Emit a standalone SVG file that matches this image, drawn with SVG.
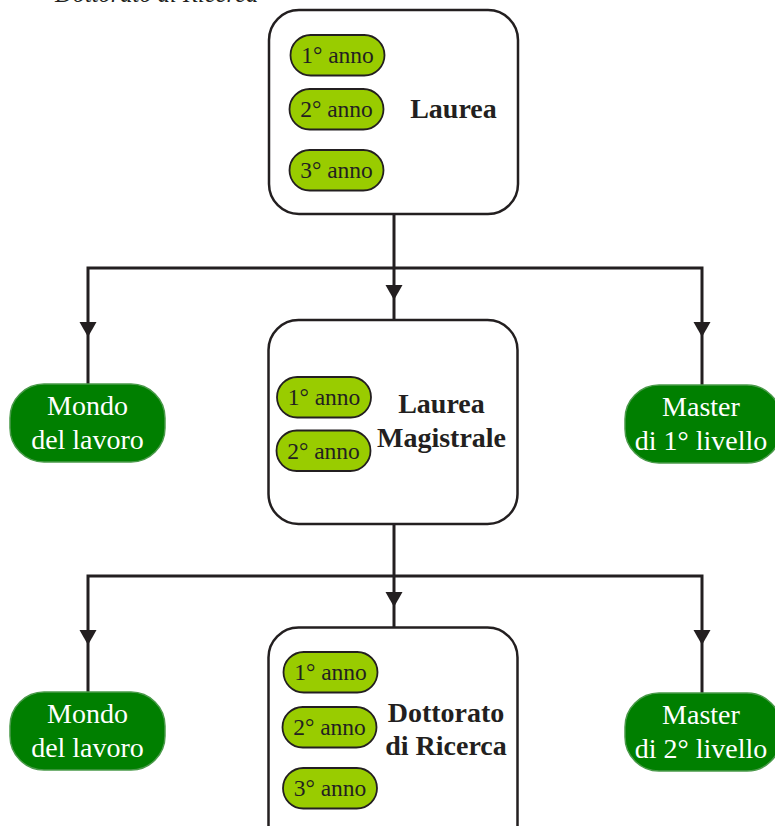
<svg xmlns="http://www.w3.org/2000/svg" xmlns:xlink="http://www.w3.org/1999/xlink" width="775" height="826" viewBox="0 0 775 826">
<style>
.box{fill:#fff;stroke:#231f20;stroke-width:2.5}
.pill{fill:#99cc00;stroke:#231f20;stroke-width:1.8}
.out{fill:#007f00;stroke:#4a9a4a;stroke-width:1.5}
.pt{font-family:"Liberation Serif",serif;font-size:23.5px;fill:#231f20;text-anchor:middle}
.bt{font-family:"Liberation Serif",serif;font-size:28px;font-weight:bold;fill:#231f20;text-anchor:middle}
.wt{font-family:"Liberation Serif",serif;font-size:28px;fill:#fff;text-anchor:middle}
.ln{fill:none;stroke:#231f20;stroke-width:3}
</style>
<defs>
<path id="ah" d="M-8.5,-15 L8.5,-15 L0,0 Z" fill="#231f20"/>
</defs>
<text x="55" y="2" font-family="Liberation Serif, serif" font-size="24.5" font-style="italic" fill="#231f20">Dottorato di Ricerca</text>
<g id="connectors">
<path class="ln" d="M394,214 V320"/>
<path class="ln" d="M88,384 V268 H702 V385"/>
<use xlink:href="#ah" x="394" y="300"/>
<use xlink:href="#ah" x="88" y="337"/>
<use xlink:href="#ah" x="702" y="337"/>
<path class="ln" d="M394,524 V628"/>
<path class="ln" d="M88,692 V576 H702 V693"/>
<use xlink:href="#ah" x="394" y="607"/>
<use xlink:href="#ah" x="88" y="645"/>
<use xlink:href="#ah" x="702" y="645"/>
</g>
<g id="laurea">
<rect class="box" x="269" y="10" width="249" height="204" rx="30"/>
<rect class="pill" x="290.5" y="35" width="94" height="40.5" rx="20.25"/>
<text class="pt" x="337.5" y="63">1° anno</text>
<rect class="pill" x="289.5" y="89" width="94" height="40.5" rx="20.25"/>
<text class="pt" x="336.5" y="117">2° anno</text>
<rect class="pill" x="289.5" y="150" width="94" height="40.5" rx="20.25"/>
<text class="pt" x="336.5" y="178">3° anno</text>
<text class="bt" x="453.5" y="118">Laurea</text>
</g>
<g id="mondo1">
<rect class="out" x="10" y="384" width="155" height="78" rx="34"/>
<text class="wt" x="87.5" y="415">Mondo</text>
<text class="wt" x="87.5" y="449">del lavoro</text>
</g>
<g id="laurea-magistrale">
<rect class="box" x="268.5" y="320" width="249" height="204" rx="30"/>
<rect class="pill" x="277" y="377" width="94" height="40.5" rx="20.25"/>
<text class="pt" x="324" y="405">1° anno</text>
<rect class="pill" x="276.5" y="430.5" width="94" height="40.5" rx="20.25"/>
<text class="pt" x="323.5" y="458.5">2° anno</text>
<text class="bt" x="441.5" y="413">Laurea</text>
<text class="bt" x="441.5" y="447">Magistrale</text>
</g>
<g id="master1">
<rect class="out" x="625" y="385" width="156" height="78" rx="34"/>
<text class="wt" x="701" y="416">Master</text>
<text class="wt" x="701" y="450">di 1° livello</text>
</g>
<g id="mondo2">
<rect class="out" x="10" y="692" width="155" height="78" rx="34"/>
<text class="wt" x="87.5" y="723">Mondo</text>
<text class="wt" x="87.5" y="757">del lavoro</text>
</g>
<g id="dottorato">
<rect class="box" x="268.5" y="627.5" width="249" height="230" rx="30"/>
<rect class="pill" x="283.5" y="652" width="94" height="40.5" rx="20.25"/>
<text class="pt" x="330.5" y="680">1° anno</text>
<rect class="pill" x="282.5" y="707" width="94" height="40.5" rx="20.25"/>
<text class="pt" x="329.5" y="735">2° anno</text>
<rect class="pill" x="283" y="768" width="94" height="40.5" rx="20.25"/>
<text class="pt" x="330" y="796">3° anno</text>
<text class="bt" x="446" y="722">Dottorato</text>
<text class="bt" x="446" y="755">di Ricerca</text>
</g>
<g id="master2">
<rect class="out" x="625" y="693" width="156" height="78" rx="34"/>
<text class="wt" x="701" y="724">Master</text>
<text class="wt" x="701" y="758">di 2° livello</text>
</g>
</svg>
